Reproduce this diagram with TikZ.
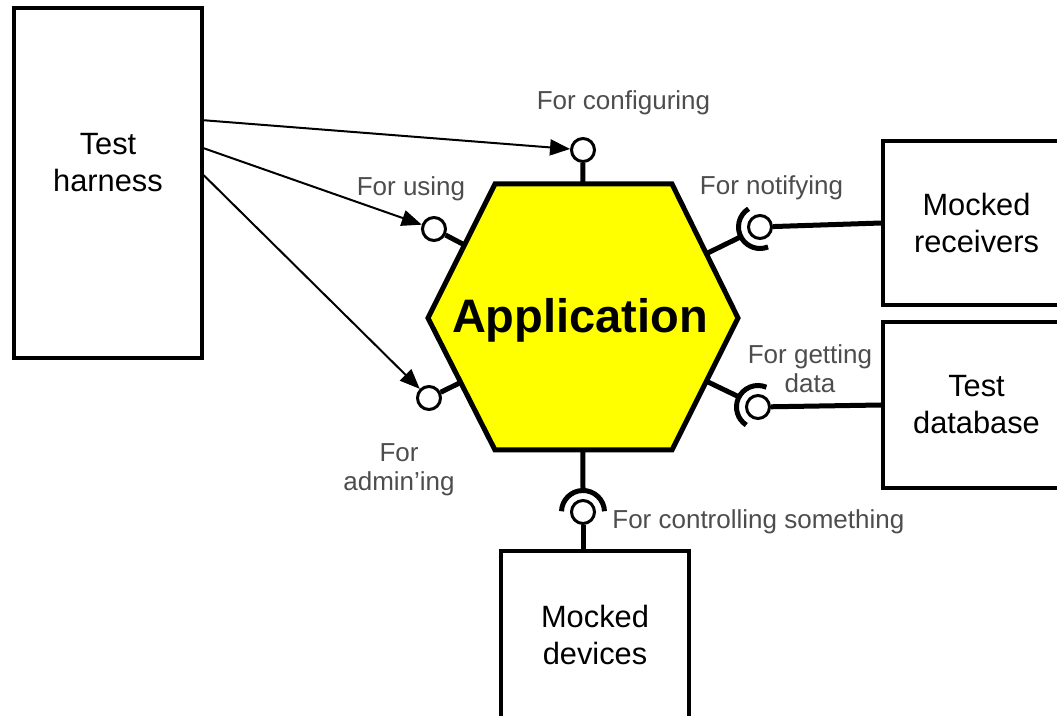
\documentclass[tikz,border=0pt]{standalone}
\usepackage{fontspec}
\setmainfont{Liberation Sans}
\usetikzlibrary{calc,arrows.meta}
\definecolor{labelgray}{HTML}{4D4D4D}
\definecolor{appyellow}{HTML}{FFFF00}
\tikzset{
  block/.style={draw, line width=1.75pt, inner sep=0pt, align=center,
    font=\fontsize{15.4}{18.5}\selectfont},
  blocktext/.style={inner sep=0pt, align=center, font=\fontsize{15.4}{18.5}\selectfont},
  port/.style={circle, draw, fill=white, line width=1.5pt, minimum size=11.5pt, inner sep=0pt},
  stem/.style={line width=2.5pt},
  socket/.style={line width=2.5pt},
  portlabel/.style={text=labelgray, inner sep=0pt, align=center,
    font=\fontsize{13}{14.5}\selectfont},
  call/.style={line width=1pt, -{Triangle[length=10pt,width=8pt]}},
}
\begin{document}
\begin{tikzpicture}[x=0.5pt,y=-0.5pt]
\useasboundingbox (0,0) rectangle (1057,716);
\clip (0,0) rectangle (1057,716);

% the application hexagon
\coordinate (hL)  at (428,318);
\coordinate (hTL) at (495,184);
\coordinate (hTR) at (672,184);
\coordinate (hR)  at (738,318);
\coordinate (hBR) at (672,450);
\coordinate (hBL) at (495,450);
\draw[line width=2.5pt, fill=appyellow] (hL) -- (hTL) -- (hTR) -- (hR) -- (hBR) -- (hBL) -- cycle;
\node[font=\bfseries\fontsize{23.5}{28}\selectfont, anchor=base, inner sep=0pt] (app) at (580,333) {Application};

% outer blocks
\node[block, minimum width=94pt, minimum height=175pt] (harness) at (108,183) {};
\node[blocktext] (harnesstext) at (108,163) {Test\\harness};
\node[block, minimum width=93.5pt, minimum height=82pt] (recv) at (976.5,223) {Mocked\\receivers};
\node[block, minimum width=93.5pt, minimum height=83pt] (db) at (976.5,405) {Test\\database};
\node[block, minimum width=94pt, minimum height=84pt] (dev) at (595,635) {Mocked\\devices};

% ports
\node[port] (pCfg) at (583,150) {};
\node[port] (pUse) at (434,229) {};
\node[port] (pAdm) at (429,398) {};
\node[port] (pNot) at (760,227) {};
\node[port] (pDat) at (758,407) {};
\node[port] (pCtl) at (583,512) {};

% provided ports (lollipops)
\draw[stem] ($(hTL)!0.497!(hTR)$) -- (pCfg);
\draw[stem] ($(hL)!0.545!(hTL)$) -- (pUse);
\draw[stem] ($(hL)!0.488!(hBL)$) -- (pAdm);

% required ports (sockets)
\draw[stem] ($(hTR)!0.52!(hR)$) -- ($(pNot.center)+(207:10.75pt)$);
\draw[socket] ($(pNot.center)+(122:10.75pt)$) arc[start angle=122, end angle=292, radius=10.75pt];
\draw[stem] ($(hR)!0.479!(hBR)$) -- ($(pDat.center)+(152:10.75pt)$);
\draw[socket] ($(pDat.center)+(67:10.75pt)$) arc[start angle=67, end angle=237, radius=10.75pt];
\draw[stem] ($(hBL)!0.497!(hBR)$) -- ($(pCtl.center)+(90:10.75pt)$);
\draw[socket] ($(pCtl.center)+(2:10.75pt)$) arc[start angle=2, end angle=178, radius=10.75pt];

% connections to the mocks
\draw[stem] (pNot) -- (recv.west);
\draw[stem] (pDat) -- (db.west);
\draw[stem] (pCtl) -- (pCtl |- dev.north);

% test harness drives the provided ports
\draw[call] ($(harness.north east)+(0,114)$) -- (pCfg);
\draw[call] ($(harness.north east)+(0,142)$) -- (pUse);
\draw[call] ($(harness.north east)+(0,169)$) -- (pAdm);

% port labels
\node[portlabel, anchor=base] (lCfg) at (623.5,110) {For configuring};
\node[portlabel, anchor=base] (lUse) at (411,196) {For using};
\node[portlabel, anchor=base] (lNot) at (771.5,195) {For notifying};
\node[portlabel, anchor=north] (lDat) at (810,344.4) {For getting\\data};
\node[portlabel, anchor=north] (lAdm) at (399,443.4) {For\\admin’ing};
\node[portlabel, anchor=base west] (lCtl) at (612,529) {For controlling something};
\end{tikzpicture}
\end{document}
